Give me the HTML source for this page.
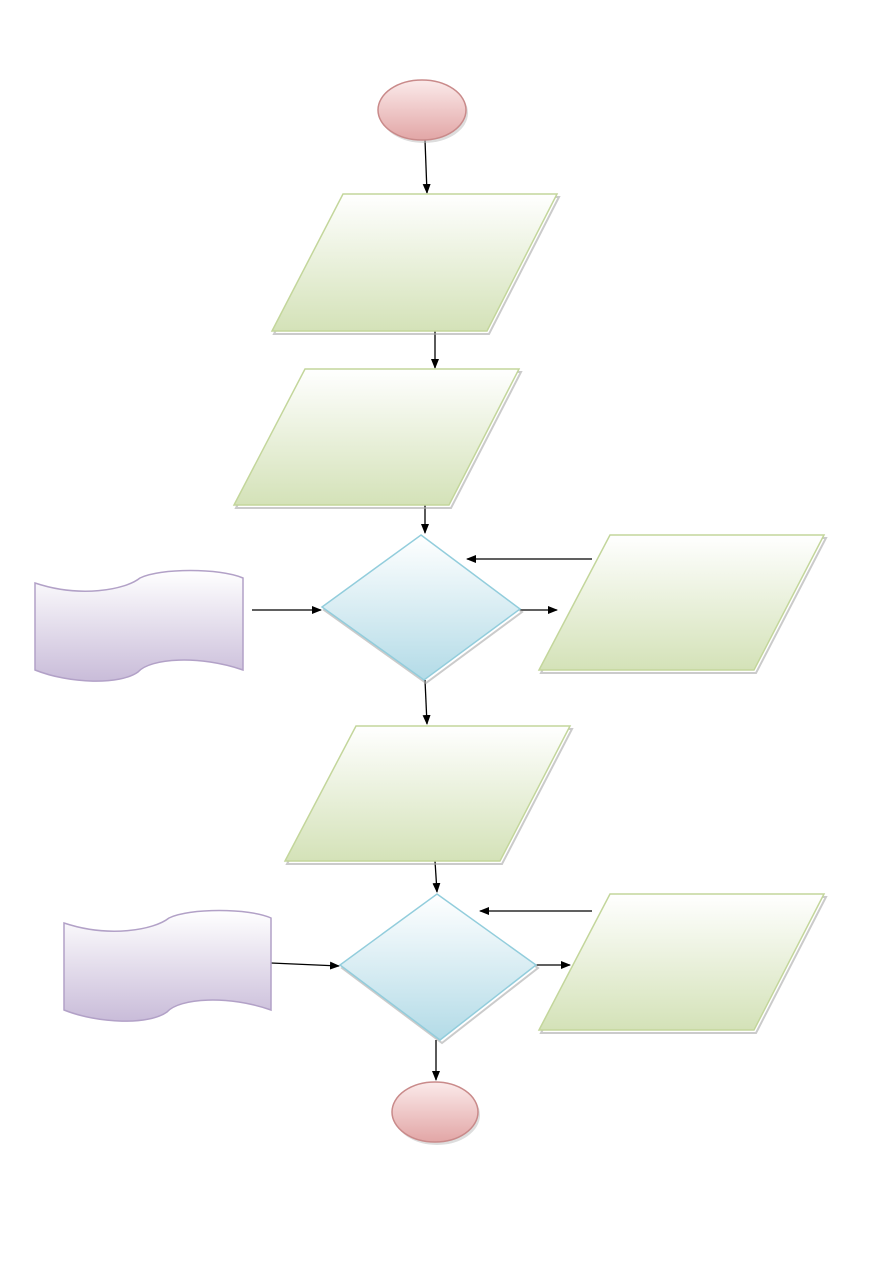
<!DOCTYPE html>
<html><head><meta charset="utf-8"><style>html,body{margin:0;padding:0;background:#fff}svg{display:block}</style></head>
<body>
<svg width="893" height="1263" viewBox="0 0 893 1263" xmlns="http://www.w3.org/2000/svg">
<defs>
<linearGradient id="g" x1="0" y1="0" x2="0" y2="1"><stop offset="0" stop-color="#ffffff"/><stop offset="1" stop-color="#d4e2b8"/></linearGradient>
<linearGradient id="b" x1="0" y1="0" x2="0" y2="1"><stop offset="0" stop-color="#ffffff"/><stop offset="1" stop-color="#b3dbe7"/></linearGradient>
<linearGradient id="p" x1="0" y1="0" x2="0" y2="1"><stop offset="0" stop-color="#ffffff"/><stop offset="1" stop-color="#c9bcd9"/></linearGradient>
<linearGradient id="r" x1="0" y1="0" x2="0" y2="1"><stop offset="0" stop-color="#fbeaea"/><stop offset="1" stop-color="#e2a6a6"/></linearGradient>
<marker id="a" markerWidth="10" markerHeight="8" refX="9" refY="4" orient="auto" markerUnits="userSpaceOnUse"><path d="M0,0 L10,4 L0,8 z" fill="#000"/></marker>
</defs>
<g stroke="#000" stroke-width="1.3" marker-end="url(#a)">
<line x1="425" y1="140" x2="427" y2="193"/>
<line x1="435" y1="331" x2="435" y2="368"/>
<line x1="425" y1="505" x2="425" y2="533"/>
<line x1="592" y1="559" x2="467" y2="559"/>
<line x1="520" y1="610" x2="557" y2="610"/>
<line x1="252" y1="610" x2="321" y2="610"/>
<line x1="425" y1="680" x2="427" y2="724"/>
<line x1="435" y1="861" x2="437" y2="892"/>
<line x1="592" y1="911" x2="480" y2="911"/>
<line x1="536" y1="965" x2="570" y2="965"/>
<line x1="271" y1="963" x2="339" y2="966"/>
<line x1="436" y1="1040" x2="436" y2="1080"/>
</g>
<g stroke="#a9a9a9" stroke-width="2" fill="none" opacity="0.6">
<polygon points="345,197 559,197 489,334 274,334"/>
<polygon points="307,372 521,372 451,508 236,508"/>
<polygon points="612,538 826,538 756,673 541,673"/>
<polygon points="358,729 572,729 502,864 287,864"/>
<polygon points="612,897 826,897 756,1033 541,1033"/>
<polygon points="423,538 522,612 426,683 324,610"/>
<polygon points="439,897 538,968 442,1043 342,968"/>
</g>
<g fill="url(#g)" stroke="#c3d69b" stroke-width="1.5">
<polygon points="343,194 557,194 487,331 272,331"/>
<polygon points="305,369 519,369 449,505 234,505"/>
<polygon points="610,535 824,535 754,670 539,670"/>
<polygon points="356,726 570,726 500,861 285,861"/>
<polygon points="610,894 824,894 754,1030 539,1030"/>
</g>
<g fill="url(#b)" stroke="#92cddc" stroke-width="1.5">
<polygon points="421,535 520,609 424,680 322,607"/>
<polygon points="437,894 536,965 440,1040 340,965"/>
</g>
<g fill="url(#p)" stroke="#b2a1c7" stroke-width="1.5">
<path d="M35,583 C80,598 125,590 140,578 C160,568 220,568 243,578 L243,670 C200,655 150,658 138,672 C120,685 70,684 35,670 Z"/>
<path d="M64,923 C109,938 154,930 169,918 C189,908 249,908 271,918 L271,1010 C229,995 179,998 167,1012 C149,1025 99,1024 64,1010 Z"/>
</g>
<ellipse cx="424" cy="113" rx="44" ry="30" fill="#bbb" opacity="0.5"/>
<ellipse cx="422" cy="110" rx="44" ry="30" fill="url(#r)" stroke="#c98a8a" stroke-width="1.5"/>
<ellipse cx="437" cy="1115" rx="43" ry="30" fill="#bbb" opacity="0.5"/>
<ellipse cx="435" cy="1112" rx="43" ry="30" fill="url(#r)" stroke="#c98a8a" stroke-width="1.5"/>
</svg>
</body></html>
